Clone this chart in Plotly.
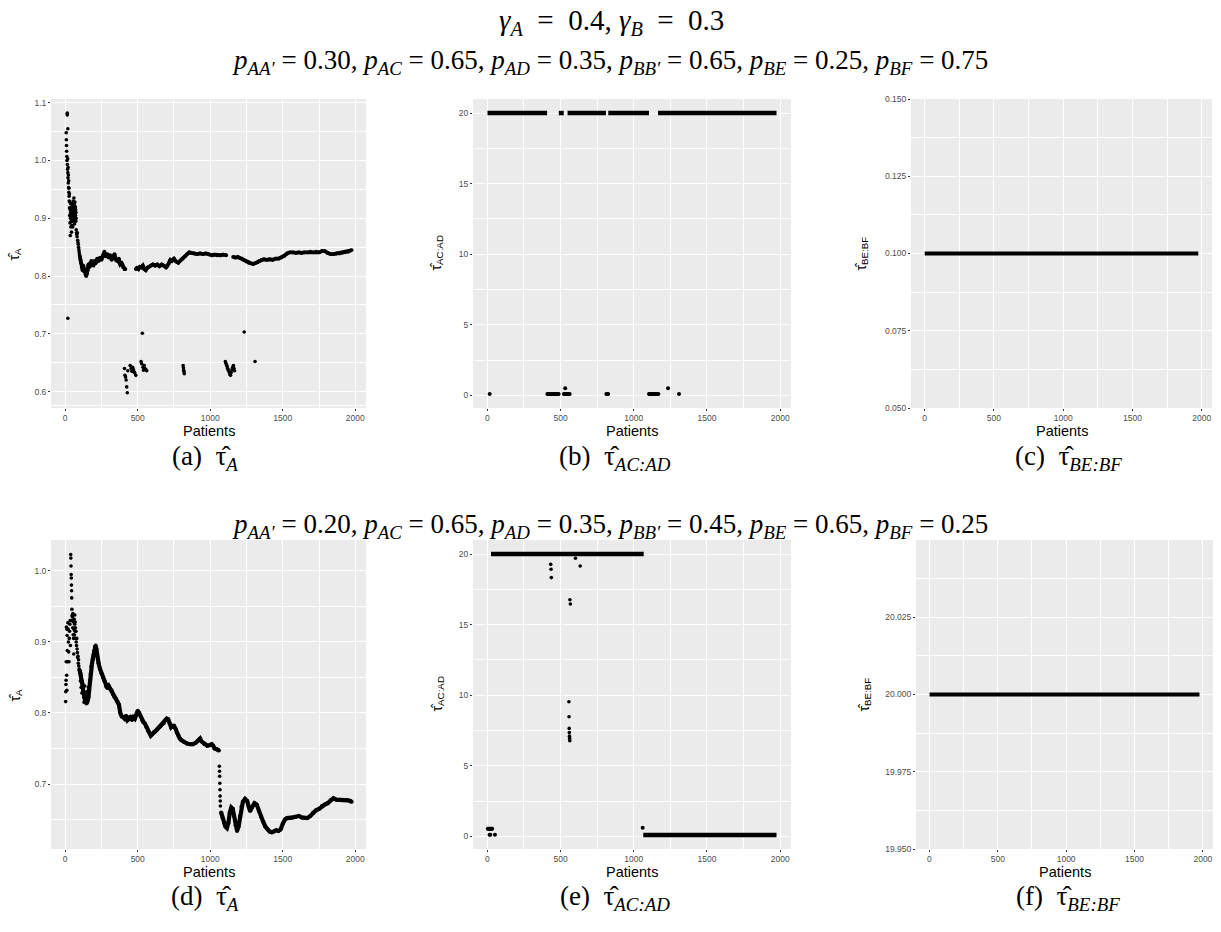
import plotly.graph_objects as go

# ---------------- data ----------------
# (a) tau_A, first setting
a_early_x = [7, 8, 9, 10, 11, 12, 14, 14, 15, 16, 17, 18, 18, 19, 20, 21, 22, 23, 24, 25, 26, 27, 28, 29, 30, 31,
             32, 33, 34, 35, 36, 37, 38, 39, 40, 41, 42, 43, 44, 45, 46, 47, 48, 49, 50, 51, 52, 53, 54, 55, 56, 57,
             58, 59, 60, 61, 62, 63, 64, 65, 66, 67, 68, 69, 70, 71, 72, 73, 74, 75, 76, 78, 80, 82, 84, 86, 88, 90,
             92, 94, 96, 98]
a_early_y = [1.048, 1.036, 1.026, 1.016, 1.007, 1.0, 1.082, 1.079, 0.993, 0.985, 1.003, 1.055, 0.979, 0.97, 0.988,
             0.961, 0.975, 0.953, 0.965, 0.945, 0.952, 0.938, 0.93, 0.942, 0.918, 0.905, 0.928, 0.892, 0.915, 0.87,
             0.9, 0.91, 0.925, 0.885, 0.902, 0.918, 0.895, 0.876, 0.908, 0.92, 0.888, 0.9, 0.912, 0.895, 0.925, 0.905,
             0.885, 0.918, 0.9, 0.93, 0.91, 0.895, 0.922, 0.905, 0.935, 0.915, 0.9, 0.925, 0.89, 0.918, 0.908, 0.928,
             0.898, 0.912, 0.92, 0.905, 0.915, 0.895, 0.91, 0.9, 0.88, 0.875, 0.872, 0.868, 0.875, 0.862, 0.858, 0.855,
             0.85, 0.846, 0.842, 0.838]
a_main_x = [100, 105, 110, 115, 120, 125, 130, 135, 140, 145, 150, 155, 160, 165, 170, 175, 180, 185, 190, 195, 200,
            210, 220, 230, 240, 250, 260, 270, 280, 290, 300, 310, 320, 330, 340, 350, 360, 370, 380, 390, 400, 410,
            415, None,
            487, 495, 505, 515, 525, 535, 545, 555, 565, 575, 590, 605, 620, 635, 650, 665, 680, 695, 705, 715, 725,
            735, 750, 765, 780, 795, 810, 825, 840, 855, 870, 890, 910, 930, 950, 970, 990, 1010, 1030, 1050, 1070,
            1090, 1110, None,
            1158, 1175, 1190, 1205, 1220, 1235, 1250, 1265, 1280, 1295, 1310, 1325, 1340, 1355, 1370, 1390, 1410,
            1430, 1450, 1470, 1490, 1510, 1530, 1550, 1570, 1590, 1610, 1630, 1650, 1670, 1690, 1710, 1730, 1750,
            1770, 1790, 1810, 1830, 1850, 1870, 1890, 1910, 1930, 1950, 1965, 1975]
a_main_y = [0.835, 0.828, 0.822, 0.815, 0.81, 0.818, 0.808, 0.812, 0.803, 0.80, 0.805, 0.81, 0.82, 0.815, 0.822,
            0.818, 0.826, 0.82, 0.825, 0.818, 0.826, 0.822, 0.83, 0.826, 0.832, 0.828, 0.836, 0.842, 0.834, 0.838,
            0.832, 0.836, 0.828, 0.834, 0.838, 0.828, 0.826, 0.83, 0.82, 0.822, 0.815, 0.812, 0.812, None,
            0.812, 0.814, 0.812, 0.816, 0.815, 0.818, 0.812, 0.81, 0.814, 0.816, 0.818, 0.82, 0.818, 0.82, 0.817,
            0.82, 0.818, 0.815, 0.818, 0.822, 0.828, 0.826, 0.83, 0.825, 0.823, 0.827, 0.83, 0.834, 0.838, 0.841,
            0.84, 0.839, 0.838, 0.839, 0.838, 0.839, 0.838, 0.836, 0.837, 0.836, 0.836, 0.837, 0.836, None,
            0.833, 0.832, 0.833, 0.831, 0.83, 0.827, 0.825, 0.823, 0.822, 0.821, 0.822, 0.824, 0.826, 0.828, 0.829,
            0.828, 0.829, 0.828, 0.83, 0.83, 0.832, 0.835, 0.839, 0.841, 0.841, 0.84, 0.841, 0.84, 0.841, 0.841,
            0.842, 0.841, 0.842, 0.841, 0.843, 0.843, 0.84, 0.838, 0.838, 0.839, 0.839, 0.84, 0.841, 0.842, 0.844,
            0.845]
a_low_x = [18, 409, 412, 416, 420, 424, 428, 432, 448, 455, 460, 465, 470, 475, 480, 487, 523, 527, 532, 536, 540,
           545, 550, 556, 562, 813, 815, 817, 819, 821, 1104, 1108, 1112, 1116, 1120, 1125, 1130, 1135, 1140, 1145,
           1150, 1155, 1160, 1164, 1168, 1234, 1309]
a_low_y = [0.727, 0.64, 0.628, 0.625, 0.62, 0.608, 0.598, 0.636, 0.645, 0.64, 0.635, 0.642, 0.638, 0.634, 0.632,
           0.628, 0.652, 0.648, 0.701, 0.642, 0.637, 0.645, 0.64, 0.638, 0.636, 0.645, 0.641, 0.637, 0.634, 0.631,
           0.652, 0.649, 0.646, 0.644, 0.64, 0.637, 0.634, 0.63, 0.628, 0.633, 0.638, 0.642, 0.645, 0.64, 0.636,
           0.703, 0.652]

# (b) tau_AC:AD, first setting
b_top_x = [1, 408, None, 488, 522, None, 548, 810, None, 826, 1104, None, 1166, 1975]
b_top_y = [20, 20, None, 20, 20, None, 20, 20, None, 20, 20, None, 20, 20]
b_low_x = [16, 410, 416, 422, 428, 434, 440, 448, 455, 460, 470, 480, 487, 523, 530, 536, 542, 550, 556, 562, 813,
           818, 825, 1104, 1110, 1118, 1125, 1132, 1140, 1148, 1155, 1162, 1168, 1309, 532, 1234]
b_low_y = [0.1] * 34 + [0.5, 0.5]

# (c) tau_BE:BF, first setting
c_x = [1, 1975]
c_y = [0.10, 0.10]

# (d) tau_A, second setting
d_early_x = [3, 4, 5, 6, 7, 8, 10, 11, 12, 13, 14, 15, 18, 20, 22, 24, 26, 28, 30, 32, 34, 36, 38, 39, 40, 41, 42,
             43, 44, 45, 46, 47, 48, 50, 52, 53, 55, 56, 58, 59, 60, 62, 63, 65, 66, 68, 69, 70, 72, 74, 76, 78, 80,
             82, 84, 86, 88, 90, 92, 94, 96, 98,
             105, 110, 115, 120, 125, 130, 135, 140, 145, 150, 155, 160]
d_early_y = [0.816, 0.83, 0.84, 0.846, 0.872, 0.921, 0.853, 0.832, 0.918, 0.909, 0.888, 0.872, 0.927, 0.918, 0.9,
             0.886, 0.872, 0.905, 0.915, 0.925, 0.93, 0.895, 1.023, 1.018, 1.007, 0.995, 0.99, 0.98, 0.972, 0.962,
             0.946, 0.937, 0.93, 0.935, 0.92, 0.94, 0.91, 0.928, 0.905, 0.883, 0.918, 0.932, 0.91, 0.925, 0.938,
             0.915, 0.928, 0.92, 0.905, 0.915, 0.9, 0.895, 0.905, 0.89, 0.885, 0.878, 0.88, 0.87, 0.875, 0.866,
             0.862, 0.86,
             0.845, 0.836, 0.828, 0.842, 0.835, 0.815, 0.838, 0.826, 0.813, 0.83, 0.825, 0.836]
d_main_x = [100, 105, 110, 115, 120, 125, 130, 135, 140, 145, 150, 155, 160, 165, 170, 175, 180, 185, 190, 195, 200,
            205, 210, 215, 220, 225, 230, 240, 250, 260, 270, 280, 290, 300, 310, 320, 330, 340, 350, 360, 370, 380,
            390, 400, 410, 420, 430, 440, 450, 460, 470, 480, 490, 500, 510, 520, 530, 540, 550, 560, 570, 580, 590,
            600, 610, 620, 630, 640, 650, 660, 670, 680, 690, 700, 710, 720, 730, 740, 750, 760, 770, 780, 790, 800,
            820, 840, 860, 880, 900, 920, 930, 940, 960, 980, 1000, 1010, 1020, 1030, 1045, 1060, None,
            1075, 1085, 1095, 1105, 1115, 1125, 1135, 1145, 1155, 1165, 1175, 1185, 1195, 1205, 1215, 1225, 1240,
            1255, 1265, 1275, 1290, 1305, 1320, 1335, 1350, 1365, 1380, 1395, 1410, 1425, 1440, 1455, 1470, 1485,
            1500, 1515, 1530, 1550, 1570, 1590, 1610, 1630, 1650, 1670, 1690, 1710, 1730, 1750, 1770, 1790, 1810,
            1830, 1850, 1870, 1890, 1910, 1930, 1950, 1965, 1975]
d_main_y = [0.86, 0.856, 0.852, 0.845, 0.838, 0.83, 0.822, 0.818, 0.815, 0.82, 0.814, 0.818, 0.822, 0.832, 0.845,
            0.855, 0.865, 0.87, 0.876, 0.882, 0.888, 0.893, 0.895, 0.89, 0.882, 0.875, 0.87, 0.862, 0.856, 0.85,
            0.845, 0.838, 0.835, 0.838, 0.834, 0.832, 0.826, 0.822, 0.82, 0.816, 0.812, 0.8, 0.795, 0.794, 0.792,
            0.796, 0.79, 0.792, 0.795, 0.79, 0.794, 0.792, 0.797, 0.803, 0.8, 0.795, 0.79, 0.787, 0.785, 0.78, 0.775,
            0.772, 0.768, 0.77, 0.773, 0.774, 0.776, 0.778, 0.78, 0.782, 0.784, 0.786, 0.79, 0.792, 0.791, 0.785,
            0.78, 0.782, 0.782, 0.778, 0.772, 0.768, 0.764, 0.762, 0.759, 0.757, 0.756, 0.756, 0.758, 0.762, 0.764,
            0.76, 0.756, 0.754, 0.755, 0.756, 0.754, 0.75, 0.749, 0.747, None,
            0.66, 0.652, 0.645, 0.64, 0.638, 0.645, 0.66, 0.667, 0.665, 0.655, 0.642, 0.634, 0.64, 0.655, 0.668,
            0.675, 0.679, 0.676, 0.668, 0.662, 0.668, 0.673, 0.671, 0.662, 0.654, 0.647, 0.64, 0.636, 0.633, 0.632,
            0.633, 0.635, 0.634, 0.636, 0.644, 0.65, 0.652, 0.652, 0.653, 0.654, 0.655, 0.653, 0.652, 0.652, 0.655,
            0.66, 0.663, 0.665, 0.669, 0.671, 0.673, 0.677, 0.68, 0.678, 0.678, 0.677, 0.677, 0.677, 0.676, 0.675]
d_drop_x = [1063, 1064, 1065, 1066, 1067, 1068, 1069, 1070]
d_drop_y = [0.725, 0.718, 0.711, 0.701, 0.692, 0.683, 0.676, 0.669]

# (e) tau_AC:AD, second setting
e_top_x = [25, 1068]
e_top_y = [20, 20]
e_out_x = [433, 435, 437, 564, 567, 602, 634, 557, 558, 559, 560, 561, 562, 563]
e_out_y = [19.27, 18.92, 18.33, 16.76, 16.46, 19.7, 19.15, 9.54, 8.47, 7.65, 7.35, 7.1, 6.94, 6.78]
e_low_x = [3, 8, 13, 18, 23, 28, 33, 15, 20, 52, 1061]
e_low_y = [0.54, 0.54, 0.54, 0.54, 0.54, 0.54, 0.54, 0.12, 0.12, 0.12, 0.61]
e_bot_x = [1065, 1975]
e_bot_y = [0.1, 0.1]

# (f) tau_BE:BF, second setting
f_x = [1, 1975]
f_y = [20.0, 20.0]

# tick labels
x_ticks = [0, 500, 1000, 1500, 2000]
a_ticks = [0.6, 0.7, 0.8, 0.9, 1.0, 1.1]
a_tick_text = ["0.6", "0.7", "0.8", "0.9", "1.0", "1.1"]
b_ticks = [0, 5, 10, 15, 20]
c_ticks = [0.05, 0.075, 0.1, 0.125, 0.15]
c_tick_text = ["0.050", "0.075", "0.100", "0.125", "0.150"]
d_ticks = [0.7, 0.8, 0.9, 1.0]
d_tick_text = ["0.7", "0.8", "0.9", "1.0"]
f_ticks = [19.95, 19.975, 20.0, 20.025]
f_tick_text = ["19.950", "19.975", "20.000", "20.025"]

gammas = [0.4, 0.3]
p_names = ["AA′", "AC", "AD", "BB′", "BE", "BF"]
p_row1 = ["0.30", "0.65", "0.35", "0.65", "0.25", "0.75"]
p_row2 = ["0.20", "0.65", "0.35", "0.45", "0.65", "0.25"]
captions = [("a", "A"), ("b", "AC:AD"), ("c", "BE:BF"), ("d", "A"), ("e", "AC:AD"), ("f", "BE:BF")]

# ---------------- layout ----------------
W, H = 1221, 932
BLACK = "#000000"


def xdom(a, b):
    return [a / W, b / W]


def ydom(top, bottom):
    return [1 - bottom / H, 1 - top / H]


def mids(vals):
    return [(vals[i] + vals[i + 1]) / 2 for i in range(len(vals) - 1)]


panels = [
    dict(px=(51, 366), py=(99, 408), yr=[0.5715, 1.1065], tv=a_ticks, tt=a_tick_text,
         minor=mids(a_ticks) + [0.575], ttl="A", ytx=15),
    dict(px=(473, 791), py=(99, 408), yr=[-0.895, 20.995], tv=b_ticks, tt=[str(v) for v in b_ticks],
         minor=mids(b_ticks), ttl="AC:AD", ytx=437),
    dict(px=(911, 1212), py=(99, 408), yr=[0.05, 0.15], tv=c_ticks, tt=c_tick_text,
         minor=mids(c_ticks), ttl="BE:BF", ytx=862),
    dict(px=(51, 366), py=(540, 849), yr=[0.6085, 1.0435], tv=d_ticks, tt=d_tick_text,
         minor=[0.65] + mids(d_ticks), ttl="A", ytx=15),
    dict(px=(473, 791), py=(540, 849), yr=[-0.895, 20.995], tv=b_ticks, tt=[str(v) for v in b_ticks],
         minor=mids(b_ticks), ttl="AC:AD", ytx=437),
    dict(px=(916, 1213), py=(540, 849), yr=[19.95, 20.05], tv=f_ticks, tt=f_tick_text,
         minor=mids(f_ticks) + [20.0375], ttl="BE:BF", ytx=864),
]

layout = dict(
    width=W, height=H, margin=dict(l=0, r=0, t=0, b=0),
    paper_bgcolor="white", plot_bgcolor="#EBEBEB", showlegend=False,
    font=dict(family="Liberation Sans, Arial, sans-serif", color="#4D4D4D", size=8.5),
)

for i, p in enumerate(panels):
    k = "" if i == 0 else str(i + 1)
    layout["xaxis" + k] = dict(
        domain=xdom(*p["px"]), anchor="y" + k, range=[-98, 2074],
        tickmode="array", tickvals=x_ticks, ticktext=[str(v) for v in x_ticks],
        ticks="outside", ticklen=2, tickcolor="#333333", tickwidth=1,
        showgrid=True, gridcolor="white", gridwidth=1.1, zeroline=False, showline=False,
        minor=dict(tickvals=mids(x_ticks), showgrid=True, gridcolor="white", gridwidth=0.55, ticks=""),
        tickfont=dict(size=8.5, color="#4D4D4D"),
        automargin=False, fixedrange=True,
    )
    layout["yaxis" + k] = dict(
        domain=ydom(*p["py"]), anchor="x" + k, range=p["yr"],
        tickmode="array", tickvals=p["tv"], ticktext=p["tt"],
        ticks="outside", ticklen=2, tickcolor="#333333", tickwidth=1,
        showgrid=True, gridcolor="white", gridwidth=1.1, zeroline=False, showline=False,
        minor=dict(tickvals=p["minor"], showgrid=True, gridcolor="white", gridwidth=0.55, ticks=""),
        tickfont=dict(size=8.5, color="#4D4D4D"),
        automargin=False, fixedrange=True,
    )

fig = go.Figure(layout=layout)


def add(x, y, k, mode="markers", size=3.6, width=4):
    ax = "" if k == 0 else str(k + 1)
    fig.add_trace(go.Scatter(
        x=x, y=y, mode=mode, xaxis="x" + ax, yaxis="y" + ax,
        marker=dict(color=BLACK, size=size), line=dict(color=BLACK, width=width),
        connectgaps=False, hoverinfo="skip",
    ))


# (a)
add(a_early_x, a_early_y, 0)
add(a_main_x, a_main_y, 0, mode="lines+markers", size=3.8, width=3.8)
add(a_low_x, a_low_y, 0)
# (b)
add(b_top_x, b_top_y, 1, mode="lines", width=4.5)
add(b_low_x, b_low_y, 1, size=4)
# (c)
add(c_x, c_y, 2, mode="lines", width=4)
# (d)
add(d_early_x, d_early_y, 3)
add(d_main_x, d_main_y, 3, mode="lines+markers", size=4, width=4.2)
add(d_drop_x, d_drop_y, 3)
# (e)
add(e_top_x, e_top_y, 4, mode="lines", width=4.5)
add(e_out_x, e_out_y, 4, size=3.6)
add(e_low_x, e_low_y, 4, size=4)
add(e_bot_x, e_bot_y, 4, mode="lines", width=4.5)
# (f)
add(f_x, f_y, 5, mode="lines", width=4)

# axis titles as annotations (precise placement)
for i, p in enumerate(panels):
    cx = (p["px"][0] + p["px"][1]) / 2
    ty = 431 if i < 3 else 872
    fig.add_annotation(xref="paper", yref="paper", x=cx / W, y=1 - ty / H, xanchor="center", yanchor="middle",
                       showarrow=False, text="Patients", borderpad=0,
                       font=dict(family="Liberation Sans, Arial, sans-serif", size=14.5, color=BLACK))
    cy = (p["py"][0] + p["py"][1]) / 2
    fig.add_annotation(xref="paper", yref="paper", x=p["ytx"] / W, y=1 - cy / H, xanchor="center",
                       yanchor="middle", showarrow=False, textangle=-90,
                       text="τ̂<sub>" + p["ttl"] + "</sub>",
                       font=dict(family="Liberation Sans, Arial, sans-serif", size=14, color=BLACK))

SERIF = "Liberation Serif, DejaVu Serif, serif"
EQ = "&nbsp;=&nbsp;"
EQ1 = "&nbsp;&nbsp;=&nbsp;&nbsp;"


def ptitle(vals):
    parts = ["<i>p<sub>%s</sub></i>%s%s" % (n, EQ, v) for n, v in zip(p_names, vals)]
    return ", ".join(parts)


anns = [
    dict(text="<i>γ<sub>A</sub></i>%s%s,&nbsp;<i>γ<sub>B</sub></i>%s%s" % (EQ1, gammas[0], EQ1, gammas[1]),
         x=611 / W, y=1 - 22 / H, size=29),
    dict(text=ptitle(p_row1), x=610 / W, y=1 - 62 / H, size=27),
    dict(text=ptitle(p_row2), x=610 / W, y=1 - 526 / H, size=27),
]
for a in anns:
    sz = a.pop("size")
    fig.add_annotation(xref="paper", yref="paper", xanchor="center", yanchor="middle", showarrow=False,
                       font=dict(family=SERIF, size=sz, color=BLACK), **a)

cap_pos = [(205, 458), (615, 458), (1068, 458), (205, 898), (615, 898), (1068, 898)]
for (lab, sub), (cx, cy) in zip(captions, cap_pos):
    fig.add_annotation(xref="paper", yref="paper", x=cx / W, y=1 - cy / H, xanchor="center", yanchor="middle",
                       showarrow=False, text="(%s)&nbsp;&nbsp;τ̂<sub><i>%s</i></sub>" % (lab, sub),
                       font=dict(family=SERIF, size=27, color=BLACK))

fig.write_html("out.html")
